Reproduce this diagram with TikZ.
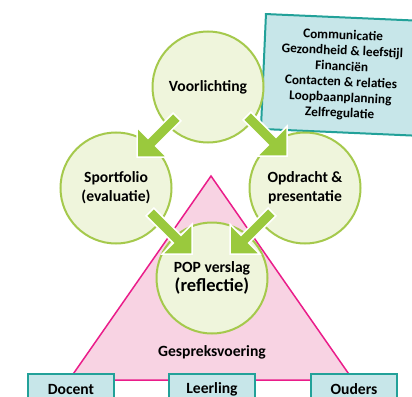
\documentclass[tikz,border=0pt]{standalone}
\usepackage{fontspec}
\setmainfont{Carlito}
\usetikzlibrary{calc}
\definecolor{circfill}{HTML}{EFF5DC}
\definecolor{circline}{HTML}{A5C94C}
\definecolor{arrgreen}{HTML}{9AC93D}
\definecolor{pinkfill}{HTML}{F8D3E3}
\definecolor{pinkline}{HTML}{EA1D8A}
\definecolor{bluefill}{HTML}{C7E6E9}
\definecolor{tealline}{HTML}{22A199}
\tikzset{
  circ/.style={circle, draw=circline, line width=2pt, fill=circfill, minimum size=111pt, inner sep=0pt, align=center, font=\bfseries\fontsize{15.6}{19}\selectfont},
  personbox/.style={rectangle, draw=tealline, line width=2pt, fill=bluefill, minimum width=86pt, minimum height=30pt, anchor=north west, font=\bfseries\fontsize{15.6}{18}\selectfont},
  themebox/.style={rectangle, draw=tealline, line width=2pt, fill=bluefill, minimum width=156pt, minimum height=115pt, anchor=north west, rotate=-2.5, align=center, font=\bfseries\fontsize{13.3}{15.6}\selectfont},
  blockarrow/.style={fill=arrgreen, draw=white, line width=1.5pt, line join=miter},
  tri/.style={fill=pinkfill, draw=pinkline, line width=1.5pt, line join=miter},
  lbl/.style={font=\bfseries\fontsize{15.6}{18}\selectfont, inner sep=0pt}
}
\newcommand\blockarr[2]{%
  \coordinate (hb) at ($(#2)!21pt!(#1)$);
  \path[blockarrow] ($(#1)!5.5pt!90:(#2)$) -- ($(hb)!5.5pt!-90:(#1)$) -- ($(hb)!21pt!-90:(#1)$) -- (#2)
     -- ($(hb)!21pt!90:(#1)$) -- ($(hb)!5.5pt!90:(#1)$) -- ($(#1)!5.5pt!-90:(#2)$) -- cycle;
}
\begin{document}
\begin{tikzpicture}[x=1pt,y=-1pt]
\useasboundingbox (0,0) rectangle (412,396);
\clip (0,0) rectangle (412,396);
% triangle
\coordinate (ta) at (211,176);
\coordinate (tl) at (69,380);
\coordinate (tr) at (353,380);
\path[tri] (ta) -- (tr) -- (tl) -- cycle;
% theme box
\node[themebox] (themes) at (265,13) {Communicatie\\Gezondheid \& leefstijl\\Financiën\\Contacten \& relaties\\Loopbaanplanning\\Zelfregulatie};
% circles
\node[circ] (v) at (208,87) {Voorlichting};
\node[circ] (s) at (116,188) {Sportfolio\\(evaluatie)};
\node[circ] (o) at (305,188) {Opdracht \&\\presentatie};
\node[circ] (p) at (212,278) {POP verslag\\{\fontsize{18.5}{21}\selectfont(reflectie)}};
% arrows
\coordinate (a1t) at (177,117); \coordinate (a1h) at (137,157);
\coordinate (a2t) at (247,116); \coordinate (a2h) at (287,156);
\coordinate (a3t) at (150,212); \coordinate (a3h) at (192,254);
\coordinate (a4t) at (272,212); \coordinate (a4h) at (230,254);
\blockarr{a1t}{a1h}
\blockarr{a2t}{a2h}
\blockarr{a3t}{a3h}
\blockarr{a4t}{a4h}
% labels
\node[lbl] (gesp) at (212,352) {Gespreksvoering};
\node[personbox] (docent) at (27,373) {Docent};
\node[personbox] (leerling) at (168,373) {Leerling};
\node[personbox] (ouders) at (310,373) {Ouders};
\end{tikzpicture}
\end{document}
